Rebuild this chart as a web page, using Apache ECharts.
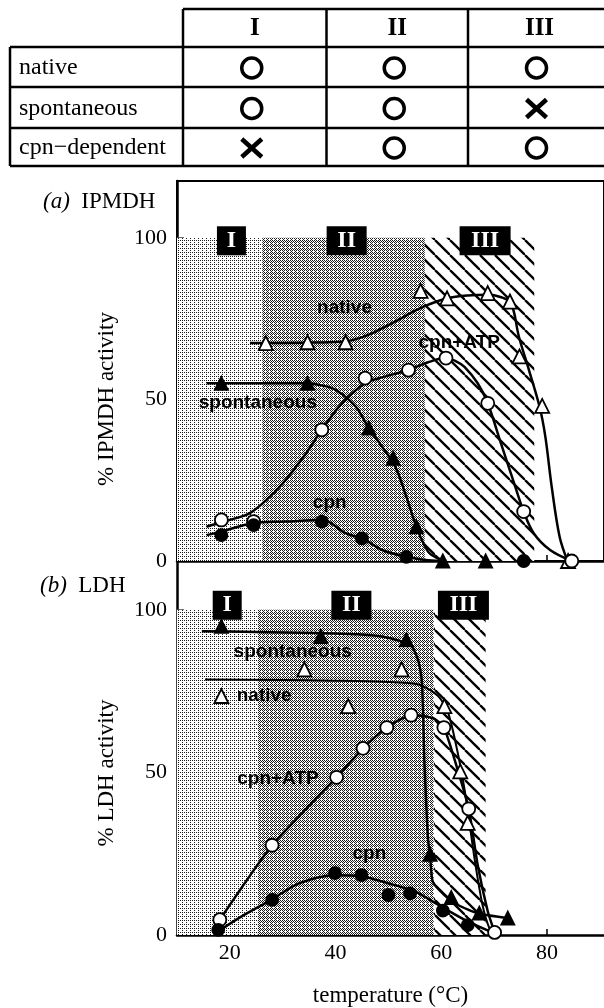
<!DOCTYPE html>
<html>
<head>
<meta charset="utf-8">
<script src="https://cdn.jsdelivr.net/npm/echarts@6/dist/echarts.min.js"></script>
<style>
  html, body { margin: 0; padding: 0; background: #fff; }
  #chart { width: 604px; height: 1008px; }
</style>
</head>
<body>
<div id="chart"></div>
<script>
// ---- table above the plots ----
const tableCols = ['I', 'II', 'III'];
const tableRows = ['native', 'spontaneous', 'cpn\u2212dependent'];
const tableMarks = [['o', 'o', 'o'], ['o', 'o', 'x'], ['x', 'o', 'o']];

// ---- temperature regions (°C) ----
const regionNames = ['I', 'II', 'III'];
const aRegionEdges = [10, 26.2, 56.9, 77.6];
const bRegionEdges = [10, 25.3, 58.6, 68.4];
const aRegionLabelX = [20.3, 42.1, 68.3];
const bRegionLabelX = [19.5, 43.0, 64.2];
const aRegionLabelY = 99.1;
const bRegionLabelY = 101.4;

// ---- (a) IPMDH: measured points ----
const aNativeX = [26.8, 34.7, 41.9, 56.1, 61.1, 68.8, 73.0, 74.8, 79.1, 84.0];
const aNativeY = [67.4, 67.7, 67.7, 83.6, 81.3, 82.9, 80.3, 63.3, 48.0, 0];
const aSpontX = [18.4, 34.7, 46.3, 50.9, 55.3, 60.3, 68.4];
const aSpontY = [55.0, 55.0, 41.1, 31.8, 10.6, 0, 0];
const aAtpX = [18.4, 24.5, 37.4, 45.6, 53.8, 60.9, 68.8, 75.6, 84.7];
const aAtpY = [12.7, 12.2, 40.6, 56.6, 59.1, 62.8, 48.8, 15.3, 0];
const aCpnX = [18.4, 24.5, 37.4, 45.0, 53.4, 75.6];
const aCpnY = [8.0, 11.1, 12.2, 7.0, 1.3, 0];

// ---- (a) hand-drawn curves, traced ----
const aNativeCurve = [[23.8, 67.5], [30, 67.5], [36, 67.6], [41.9, 68.0], [45.6, 69.6], [48.8, 72.0], [51.9, 74.6],
  [54.5, 77.0], [56.9, 78.9], [61.1, 81.3], [65, 82.2], [68.8, 82.4], [71.2, 81.7], [73.2, 79.8], [74.7, 69.4],
  [76.6, 59.1], [78.6, 47.8], [79.7, 38.5], [80.9, 23], [82.4, 7.5], [83.9, 0]];
const aSpontCurve = [[15.6, 55], [25, 55], [34.7, 55], [37.5, 54.3], [40, 53], [43.8, 47.8], [46.3, 41.1],
  [48.8, 35.4], [51.3, 29.2], [53.4, 19.9], [55.3, 10.6], [57.5, 2.9], [59.4, 0.8], [61, 0]];
const aAtpCurve = [[15.6, 10.6], [18.4, 12.0], [21, 13.2], [23.8, 14.8], [27, 19], [30, 24], [34.4, 33.3],
  [37.4, 40.6], [41.2, 48.8], [45.6, 55], [48.1, 56.5], [53.8, 59.1], [57.5, 61.5], [60.9, 62.8], [62.8, 61.8],
  [64.4, 60.1], [66.9, 55], [68.8, 48.8], [71.3, 36.4], [73.8, 24], [75.6, 15.3], [77.5, 8.6], [80.6, 3.4], [84.7, 0]];
const aCpnCurve = [[15.6, 8.0], [18.4, 9.1], [24.4, 11.7], [30.6, 12.2], [37.5, 12.7], [41.9, 8.6], [45.6, 6.5],
  [48.8, 3.4], [53.4, 1.3], [56.9, 0.3], [60, 0]];

// ---- (b) LDH: measured points ----
const bSpontX = [18.4, 37.2, 53.4, 57.9, 61.9, 67.2, 72.6];
const bSpontY = [94.9, 91.8, 90.8, 24.8, 11.5, 6.7, 5.2];
const bNativeX = [34.1, 42.4, 52.5, 60.6, 63.6, 65.0];
const bNativeY = [81.7, 70.4, 81.7, 70.4, 50.3, 34.5];
const bAtpX = [18.1, 28.0, 40.2, 45.2, 49.7, 54.3, 60.5, 65.2, 70.1];
const bAtpY = [4.7, 27.6, 48.5, 57.4, 63.8, 67.6, 63.8, 38.8, 0.8];
const bCpnX = [17.8, 28.0, 39.9, 44.9, 50.0, 54.1, 60.3, 65.0];
const bCpnY = [1.6, 10.8, 19.0, 18.4, 12.3, 12.8, 7.5, 3.0];

// ---- (b) curves, traced ----
const bSpontCurve = [[14.7, 93.4], [25, 93.2], [36.3, 92.9], [44, 92.5], [48.8, 91.8], [52.5, 90.3], [54.4, 88.8],
  [55.6, 84.7], [56.3, 78.6], [56.6, 66.4], [56.8, 54], [57.2, 38.8], [57.5, 29.7], [57.9, 24], [58.4, 16.4],
  [60.6, 12.3], [63.1, 9.3], [66.9, 6.7], [72.5, 5.2]];
const bNativeCurve = [[15.3, 78.6], [30, 78.4], [40, 78.2], [48.8, 77.9], [55.6, 77.1], [59.4, 73.5], [61.3, 68.4],
  [63.1, 56.2], [64.7, 41.9], [66.3, 23.5], [67.8, 9.3], [69.1, 2.1], [70, 0.5]];
const bAtpCurve = [[18.1, 4.7], [28, 27.6], [40.2, 48.5], [45.2, 57.4], [49.7, 63.8], [54.3, 67.6], [56.3, 67.4],
  [58.8, 66.4], [60.5, 63.8], [62.5, 54.1], [65.2, 38.8], [66.9, 21.5], [68.8, 7.3], [70.1, 0.8]];
const bCpnCurve = [[17.8, 1.1], [22, 5.5], [27.8, 10.8], [33.1, 15.9], [40, 18.4], [45, 18], [50, 15.9],
  [55, 13.4], [59.4, 9.3], [65, 4.2], [70, 0.6]];

// ---- text annotations inside the plots ----
const aNoteNames = ['native', 'cpn+ATP', 'spontaneous', 'cpn'];
const aNoteX = [41.7, 63.4, 25.3, 38.9];
const aNoteY = [78.3, 67.5, 49.1, 18.1];
const bNoteNames = ['spontaneous', 'native', 'cpn+ATP', 'cpn'];
const bNoteX = [31.9, 26.5, 29.1, 46.4];
const bNoteY = [87.2, 73.5, 48.0, 25.1];
const bKeyX = [18.4];
const bKeyY = [73.5];

const serif = '"Liberation Serif", "Times New Roman", serif';
const sans = '"Liberation Sans", Arial, sans-serif';

const zip = (xs, ys) => xs.map((x, i) => [x, ys[i]]);

// fill patterns: two stipples and a hatch
function bayerPattern(n) {
  const m = [[0, 8, 2, 10], [12, 4, 14, 6], [3, 11, 1, 9], [15, 7, 13, 5]];
  const c = document.createElement('canvas');
  c.width = 4; c.height = 4;
  const g = c.getContext('2d');
  g.fillStyle = '#fff';
  g.fillRect(0, 0, 4, 4);
  g.fillStyle = '#1a1a1a';
  for (let y = 0; y < 4; y++) for (let x = 0; x < 4; x++) if (m[y][x] < n) g.fillRect(x, y, 1, 1);
  return { image: c, repeat: 'repeat' };
}
function hatchPattern() {
  const s = 15;
  const c = document.createElement('canvas');
  c.width = s; c.height = s;
  const g = c.getContext('2d');
  g.fillStyle = '#fff';
  g.fillRect(0, 0, s, s);
  g.strokeStyle = '#000';
  g.lineWidth = 2.3;
  [-s, 0, s].forEach(o => { g.beginPath(); g.moveTo(o, 0); g.lineTo(o + s, s); g.stroke(); });
  return { image: c, repeat: 'repeat' };
}
const regionFills = [bayerPattern(3), bayerPattern(7), hatchPattern()];

function regionAreas(edges) {
  return regionNames.map((n, i) => [
    { xAxis: edges[i], yAxis: 0, itemStyle: { color: regionFills[i], opacity: 1 } },
    { xAxis: edges[i + 1], yAxis: 100 }
  ]);
}

function panelSeries(k, p) {
  const base = { xAxisIndex: k, yAxisIndex: k, animation: false, silent: true };
  const curve = (data, width, smooth) => Object.assign({}, base, {
    type: 'line', data, smooth, symbol: 'none', z: 3, clip: false,
    lineStyle: { color: '#000', width }
  });
  const marks = (data, symbol, filled, size) => Object.assign({}, base, {
    type: 'scatter', data, symbol, symbolSize: size, z: 4, clip: false,
    itemStyle: { color: filled ? '#000' : '#fff', borderColor: '#000', borderWidth: 1.8, opacity: 1 }
  });
  return [
    Object.assign({}, base, {
      type: 'line', data: [], z: 1,
      markArea: { silent: true, label: { show: false }, data: regionAreas(p.edges) }
    }),
    Object.assign({}, base, {
      type: 'scatter', z: 5, clip: false, symbol: 'rect',
      data: regionNames.map((n, i) => ({ name: n, value: [p.labelX[i], p.labelY] })),
      symbolSize: (v, prm) => [18 + 11 * prm.name.length, 29],
      itemStyle: { color: '#000', opacity: 1 },
      label: { show: true, position: 'inside', formatter: '{b}', color: '#fff', opacity: 1,
        fontFamily: serif, fontWeight: 'bold', fontSize: 24 }
    }),
    Object.assign({}, base, {
      type: 'scatter', z: 3, clip: false, symbolSize: 0,
      data: p.notes.map((n, i) => ({ name: n, value: [p.noteX[i], p.noteY[i]] })),
      itemStyle: { color: 'rgba(0,0,0,0)', opacity: 1 },
      label: { show: true, position: 'inside', formatter: '{b}', color: '#000', opacity: 1,
        fontFamily: sans, fontWeight: 'bold', fontSize: 19 }
    }),
    ...p.curves.map(c => curve(c[0], c[1], c[2])),
    ...p.marks.map(m => marks(m[0], m[1], m[2], m[3]))
  ];
}

const seriesA = panelSeries(0, {
  edges: aRegionEdges, labelX: aRegionLabelX, labelY: aRegionLabelY,
  notes: aNoteNames, noteX: aNoteX, noteY: aNoteY,
  curves: [[aNativeCurve, 2.5, 0.35], [aSpontCurve, 2.5, 0.35], [aAtpCurve, 2.5, 0.35], [aCpnCurve, 2.5, 0.35]],
  marks: [
    [zip(aNativeX, aNativeY), 'triangle', false, 14],
    [zip(aSpontX, aSpontY), 'triangle', true, 13],
    [zip(aAtpX, aAtpY), 'circle', false, 13],
    [zip(aCpnX, aCpnY), 'circle', true, 12]
  ]
});
const seriesB = panelSeries(1, {
  edges: bRegionEdges, labelX: bRegionLabelX, labelY: bRegionLabelY,
  notes: bNoteNames, noteX: bNoteX, noteY: bNoteY,
  curves: [[bSpontCurve, 2.5, 0.2], [bNativeCurve, 2, 0.25], [bAtpCurve, 2.5, 0.2], [bCpnCurve, 2.5, 0.3]],
  marks: [
    [zip(bNativeX, bNativeY), 'triangle', false, 14],
    [zip(bKeyX, bKeyY), 'triangle', false, 14],
    [zip(bSpontX, bSpontY), 'triangle', true, 13],
    [zip(bAtpX, bAtpY), 'circle', false, 13],
    [zip(bCpnX, bCpnY), 'circle', true, 12]
  ]
});

// ---- table drawn as graphic elements ----
const colEdges = [183, 326.5, 468, 611];
const rowEdges = [9, 47, 87, 128, 166];
const labelLeft = 10;
const tableEls = [];
const hline = (y, x1, x2) => tableEls.push({ type: 'line', shape: { x1, y1: y, x2, y2: y }, style: { stroke: '#000', lineWidth: 2.5 } });
const vline = (x, y1, y2) => tableEls.push({ type: 'line', shape: { x1: x, y1, x2: x, y2 }, style: { stroke: '#000', lineWidth: 2.5 } });
hline(rowEdges[0], colEdges[0], colEdges[3]);
rowEdges.slice(1).forEach(y => hline(y, labelLeft, colEdges[3]));
vline(labelLeft, rowEdges[1], rowEdges[4]);
colEdges.slice(0, 3).forEach(x => vline(x, rowEdges[0], rowEdges[4]));
const txt = (x, y, text, font, align) => ({
  type: 'text', x, y,
  style: { text, font, fill: '#000', align, verticalAlign: 'middle', textAlign: align, textVerticalAlign: 'middle' }
});
tableCols.forEach((c, j) => {
  tableEls.push(txt((colEdges[j] + colEdges[j + 1]) / 2, (rowEdges[0] + rowEdges[1]) / 2 + 1, c, 'bold 25px ' + serif, 'center'));
});
tableRows.forEach((r, i) => {
  const cy = (rowEdges[i + 1] + rowEdges[i + 2]) / 2 + 1;
  tableEls.push(txt(labelLeft + 9, cy, r, '24px ' + serif, 'left'));
  tableMarks[i].forEach((m, j) => {
    const cx = (colEdges[j] + colEdges[j + 1]) / 2 - 3;
    if (m === 'o') {
      tableEls.push({ type: 'circle', shape: { cx, cy, r: 10 }, style: { fill: 'none', stroke: '#000', lineWidth: 3.5 } });
    } else {
      tableEls.push({ type: 'line', shape: { x1: cx - 10, y1: cy - 9, x2: cx + 10, y2: cy + 9 }, style: { stroke: '#000', lineWidth: 4.5 } });
      tableEls.push({ type: 'line', shape: { x1: cx - 10, y1: cy + 9, x2: cx + 10, y2: cy - 9 }, style: { stroke: '#000', lineWidth: 4.5 } });
    }
  });
});

// panel titles and y-axis names
const richTitle = (x, y, letter, name) => ({
  type: 'text', x, y,
  style: {
    text: '{i|(' + letter + ')}  ' + name, font: '23px ' + serif, fill: '#000',
    verticalAlign: 'middle', textVerticalAlign: 'middle',
    rich: { i: { fontStyle: 'italic', fontFamily: serif, fontSize: 23 } }
  }
});
tableEls.push(richTitle(43, 202, 'a', 'IPMDH'));
tableEls.push(richTitle(40, 586, 'b', 'LDH'));
const yName = (y, text) => ({
  type: 'text', x: 107, y, rotation: Math.PI / 2,
  style: { text, font: '23px ' + serif, fill: '#000', align: 'center', verticalAlign: 'middle',
    textAlign: 'center', textVerticalAlign: 'middle' }
});
tableEls.push(yName(399, '% IPMDH activity'));
tableEls.push(yName(773, '% LDH activity'));

const axisBlack = { color: '#000', width: 2.5 };
const xTicks = [20, 30, 40, 50, 60, 70, 80];
const xAxisFor = (k, labels) => ({
  type: 'value', gridIndex: k, min: 10, max: 90.8,
  axisLine: { onZero: false, lineStyle: axisBlack },
  axisTick: { inside: true, length: 6, customValues: xTicks, lineStyle: { color: '#000', width: 1.5 } },
  axisLabel: labels
    ? { customValues: [20, 40, 60, 80], fontFamily: serif, fontSize: 22, color: '#000', margin: 7 }
    : { show: false },
  splitLine: { show: false }
});
const yAxisFor = (k, max) => ({
  type: 'value', gridIndex: k, min: 0, max,
  axisLine: { onZero: false, lineStyle: axisBlack },
  axisTick: { inside: true, length: 7, customValues: [50, 100], lineStyle: { color: '#000', width: 1.5 } },
  axisLabel: { customValues: [0, 50, 100], fontFamily: serif, fontSize: 22, color: '#000', margin: 10 },
  splitLine: { show: false }
});

const xB = xAxisFor(1, true);
xB.name = 'temperature (\u00B0C)';
xB.nameLocation = 'middle';
xB.nameGap = 49;
xB.nameTextStyle = { fontFamily: serif, fontSize: 23, color: '#000' };

const chart = echarts.init(document.getElementById('chart'), null, { renderer: 'canvas' });
chart.setOption({
  animation: false,
  backgroundColor: '#fff',
  grid: [
    { left: 177, top: 181, width: 431, height: 380, show: true, borderColor: '#000', borderWidth: 2, backgroundColor: 'transparent' },
    { left: 177, top: 563, width: 431, height: 374 }
  ],
  xAxis: [xAxisFor(0, false), xB],
  yAxis: [yAxisFor(0, 117.6), yAxisFor(1, 114.4)],
  graphic: { elements: tableEls },
  series: [...seriesA, ...seriesB]
});
</script>
</body>
</html>
